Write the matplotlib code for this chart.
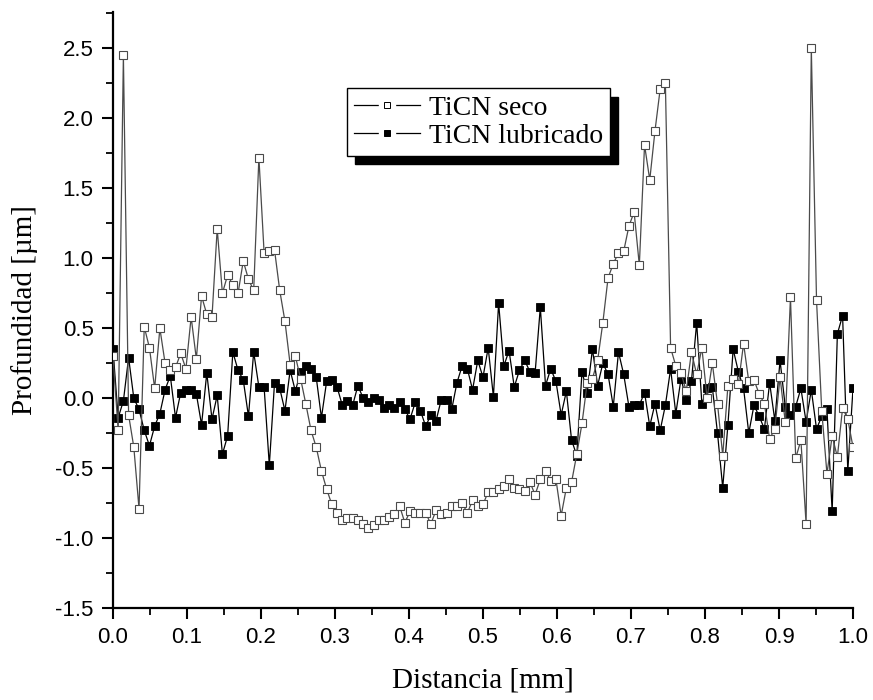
import numpy as np
import matplotlib
matplotlib.use("Agg")
import matplotlib.pyplot as plt
from matplotlib.ticker import MultipleLocator
from matplotlib.lines import Line2D
from matplotlib.legend_handler import HandlerTuple

# Profile samples (depth in micrometres)
seco = [0.30, -0.23, 2.45, -0.12, -0.35, -0.79, 0.51, 0.36, 0.07, 0.50,
        0.25, 0.20, 0.22, 0.32, 0.21, 0.58, 0.28, 0.73, 0.60, 0.58,
        1.21, 0.75, 0.88, 0.81, 0.75, 0.98, 0.85, 0.77, 1.72, 1.04,
        1.05, 1.06, 0.77, 0.55, 0.24, 0.30, 0.14, -0.04, -0.23, -0.35,
        -0.52, -0.65, -0.76, -0.82, -0.87, -0.86, -0.86, -0.87, -0.90, -0.93,
        -0.91, -0.87, -0.87, -0.85, -0.83, -0.77, -0.89, -0.81, -0.82, -0.82,
        -0.82, -0.90, -0.80, -0.83, -0.82, -0.77, -0.77, -0.75, -0.82, -0.73,
        -0.77, -0.76, -0.67, -0.67, -0.65, -0.63, -0.58, -0.64, -0.65, -0.66,
        -0.60, -0.69, -0.58, -0.52, -0.59, -0.58, -0.84, -0.64, -0.60, -0.40,
        -0.18, 0.11, 0.14, 0.27, 0.54, 0.86, 0.96, 1.04, 1.05, 1.23,
        1.33, 0.95, 1.81, 1.56, 1.91, 2.21, 2.25, 0.36, 0.23, 0.18,
        0.05, 0.33, 0.17, 0.36, 0.00, 0.25, -0.04, -0.41, 0.09, 0.14,
        0.10, 0.39, 0.12, 0.13, 0.03, -0.04, -0.29, -0.22, 0.15, -0.17,
        0.72, -0.43, -0.30, -0.90, 2.50, 0.70, -0.09, -0.54, -0.27, -0.42,
        -0.07, -0.15, -0.35]

lubricado = [0.35, -0.14, -0.02, 0.29, 0.00, -0.08, -0.23, -0.34, -0.20, -0.11,
             0.06, 0.16, -0.14, 0.04, 0.06, 0.06, 0.03, -0.19, 0.18, -0.15,
             0.02, -0.40, -0.27, 0.33, 0.20, 0.13, -0.13, 0.33, 0.08, 0.08,
             -0.48, 0.11, 0.07, -0.09, 0.20, 0.05, 0.19, 0.23, 0.21, 0.15,
             -0.14, 0.12, 0.13, 0.08, -0.05, -0.02, -0.05, 0.09, 0.00, -0.03,
             0.00, -0.01, -0.07, -0.05, -0.07, -0.03, -0.08, -0.15, -0.03, -0.09,
             -0.20, -0.12, -0.16, -0.01, -0.01, -0.08, 0.11, 0.23, 0.21, 0.06,
             0.27, 0.15, 0.36, 0.01, 0.68, 0.23, 0.34, 0.08, 0.20, 0.27,
             0.19, 0.18, 0.65, 0.09, 0.21, 0.12, -0.12, 0.05, -0.30, -0.41,
             0.19, 0.04, 0.35, 0.09, 0.25, 0.17, -0.06, 0.33, 0.17, -0.06,
             -0.05, -0.05, 0.04, -0.20, -0.04, -0.23, -0.05, 0.21, -0.11, 0.14,
             -0.01, 0.12, 0.54, -0.04, 0.07, 0.08, -0.25, -0.64, -0.19, 0.35,
             0.19, 0.07, -0.25, -0.05, -0.13, -0.22, 0.11, -0.16, 0.27, -0.06,
             -0.12, -0.06, 0.07, -0.17, 0.06, -0.22, -0.13, -0.08, -0.81, 0.46,
             0.59, -0.52, 0.07]

# Uniformly spaced sampling positions along the scan (mm)
distancia = np.linspace(0.0, 1.0, len(seco))

x_ticks = [0.0, 0.1, 0.2, 0.3, 0.4, 0.5, 0.6, 0.7, 0.8, 0.9, 1.0]
y_ticks = [-1.5, -1.0, -0.5, 0.0, 0.5, 1.0, 1.5, 2.0, 2.5]
labels = ["TiCN seco", "TiCN lubricado"]

serif = ["Liberation Serif", "DejaVu Serif"]
sans = ["Liberation Sans", "DejaVu Sans"]

fig = plt.figure(figsize=(8.73, 7.0), dpi=100)
ax = fig.add_axes([0.1294, 0.1314, 0.8477, 0.8514])

ax.plot(distancia, lubricado, color="black", lw=0.9, marker="s", ms=5.2,
        mfc="black", mec="black", mew=0.6, zorder=3)
ax.plot(distancia, seco, color="#4a4a4a", lw=0.9, marker="s", ms=5.2,
        mfc="white", mec="#4a4a4a", mew=0.8, zorder=4)

ax.set_xlim(0.0, 1.0)
ax.set_ylim(-1.5, 2.76)
ax.set_xticks(x_ticks)
ax.set_yticks(y_ticks)
ax.set_xticklabels([f"{v:.1f}" for v in x_ticks])
ax.set_yticklabels([f"{v:.1f}" for v in y_ticks])
ax.xaxis.set_minor_locator(MultipleLocator(0.05))
ax.yaxis.set_minor_locator(MultipleLocator(0.25))

for s in ["top", "right"]:
    ax.spines[s].set_visible(False)
for s in ["left", "bottom"]:
    ax.spines[s].set_linewidth(1.6)

ax.tick_params(which="major", direction="out", length=8, width=1.5,
               labelsize=16, pad=6)
ax.tick_params(which="minor", direction="out", length=5, width=1.3)
for lab in ax.get_xticklabels() + ax.get_yticklabels():
    lab.set_family(sans)

ax.set_xlabel("Distancia [mm]", family=serif, fontsize=21, labelpad=14)
ax.set_ylabel("Profundidad [µm]", family=serif, fontsize=21, labelpad=12)

# legend handles: line with a gap around the symbol ("— □ —")
def legend_handle(face):
    line = Line2D([], [], color="black", lw=0.9)
    gap = Line2D([], [], ls="none", marker="s", ms=12, mfc="white", mec="white")
    mark = Line2D([], [], ls="none", marker="s", ms=4.5, mfc=face,
                  mec="black", mew=0.7)
    return (line, gap, mark)

handles = [legend_handle("white"), legend_handle("black")]
leg = ax.legend(handles, labels, loc="upper left",
                bbox_to_anchor=(0.316, 0.872), borderaxespad=0,
                handler_map={tuple: HandlerTuple(ndivide=1, pad=0)},
                prop={"family": serif, "size": 20}, frameon=True,
                fancybox=False, edgecolor="black", framealpha=1,
                shadow={"ox": 6, "oy": -6, "color": "black", "alpha": 1},
                handlelength=2.4, handletextpad=0.3, labelspacing=0.1,
                borderpad=0.25)
leg.get_frame().set_linewidth(1.0)

fig.savefig("out.png", dpi=100)
